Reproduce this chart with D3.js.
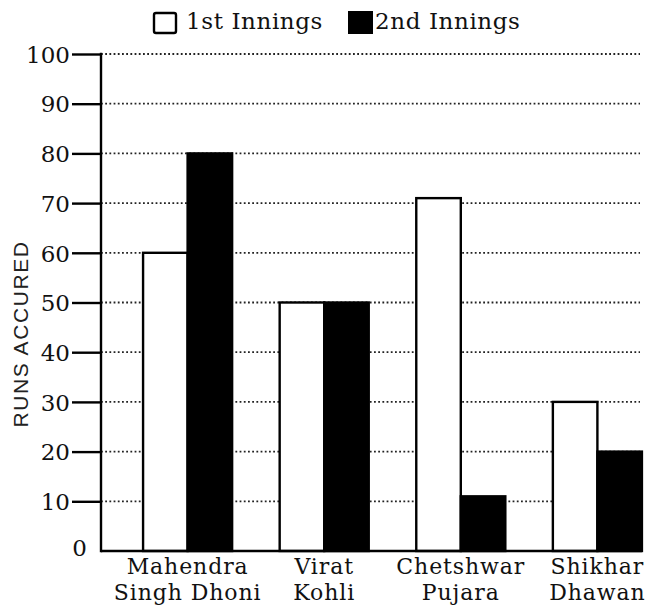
<!DOCTYPE html>
<html><head><meta charset="utf-8">
<script src="https://cdn.jsdelivr.net/npm/d3@7"></script>
<style>body{margin:0;background:#fff}</style>
</head><body>
<svg id="c" width="662" height="606"></svg>
<script>
const categories = [["Mahendra","Singh Dhoni"],["Virat","Kohli"],["Chetshwar","Pujara"],["Shikhar","Dhawan"]];
const series = ["1st Innings","2nd Innings"];
const firstInnings = [60, 50, 71, 30];
const secondInnings = [80, 50, 11, 20];
const yTicks = [0,10,20,30,40,50,60,70,80,90,100];
const yTitle = "RUNS ACCURED";

const svg = d3.select("#c");
const serif = "'DejaVu Serif', 'Liberation Serif', serif";
const x0 = 101, gridEnd = 640;
const y = d3.scaleLinear().domain([0,100]).range([551,54]);
const xb = d3.scaleBand().domain(d3.range(categories.length)).range([101,684]).paddingInner(0.348).paddingOuter(0.308);
const xs = d3.scaleBand().domain(series).range([0, xb.bandwidth()]);
const colors = {"1st Innings":"#fff","2nd Innings":"#000"};

// gridlines
svg.append("g").selectAll("line").data(yTicks.filter(d=>d>0)).join("line")
  .attr("x1", x0).attr("x2", gridEnd).attr("y1", d=>y(d)).attr("y2", d=>y(d))
  .attr("stroke","#222").attr("stroke-width",1.8).attr("stroke-dasharray","1.8,2.4");

// bars
const rows = categories.map((c,i)=>({i, vals:[firstInnings[i], secondInnings[i]]}));
const g = svg.append("g").selectAll("g").data(rows).join("g")
  .attr("transform", d=>`translate(${xb(d.i)},0)`);
g.selectAll("rect").data(d=>d.vals.map((v,k)=>({s:series[k], v}))).join("rect")
  .attr("x", d=>xs(d.s)).attr("width", xs.bandwidth())
  .attr("y", d=>y(d.v)).attr("height", d=>y(0)-y(d.v))
  .attr("fill", d=>colors[d.s]).attr("stroke","#000").attr("stroke-width",2.4);

// y axis
const ax = svg.append("g").attr("transform",`translate(${x0},0)`)
  .call(d3.axisLeft(y).tickValues(yTicks).tickSize(29).tickPadding(2));
ax.select(".domain").remove();
ax.selectAll(".tick line").attr("stroke","#000").attr("stroke-width",2.4)
  .attr("display", d=>d===0?"none":null);
ax.selectAll(".tick text").attr("font-family",serif).attr("font-size",23).attr("fill","#111")
  .attr("dy","0.36em");
ax.selectAll(".tick").filter(d=>d===0).select("text").attr("x",-14).attr("dy","0.2em");
svg.append("line").attr("x1",x0).attr("x2",x0).attr("y1",y(100)-1.2).attr("y2",y(0)+1.2)
  .attr("stroke","#000").attr("stroke-width",2.4);
// baseline
svg.append("line").attr("x1",x0).attr("x2",xb(categories.length-1)+xb.bandwidth())
  .attr("y1",y(0)).attr("y2",y(0)).attr("stroke","#000").attr("stroke-width",2.4);

// category labels (two separate text lines)
const lab = svg.append("g").selectAll("g").data(categories).join("g")
  .attr("transform",(d,i)=>`translate(${xb(i)+xb.bandwidth()/2},0)`);
lab.selectAll("text").data(d=>d).join("text")
  .attr("text-anchor","middle").attr("font-family",serif).attr("font-size",22).attr("letter-spacing",0.9).attr("fill","#111")
  .attr("y",(d,k)=>k?600:574).text(d=>d);

// y title
svg.append("text").attr("transform","translate(28,334) rotate(-90)").attr("text-anchor","middle")
  .attr("font-family","'Liberation Sans', Arial, sans-serif").attr("font-size",21).attr("letter-spacing",1.6).attr("fill","#222")
  .text(yTitle);

// legend
const leg = svg.append("g");
const legX = [153, 347];
series.forEach((s,k)=>{
  leg.append("rect").attr("x",legX[k]+1).attr("y",k?11:13).attr("width",k?25:22).attr("height",k?23:20)
    .attr("fill",colors[s]).attr("stroke","#000").attr("stroke-width",k?0:2.4).attr("rx",k?0:2);
  leg.append("text").attr("x",legX[k]+(k?28:33)).attr("y",29).attr("font-family",serif)
    .attr("font-size",23).attr("letter-spacing",0.6).attr("fill","#111").text(s);
});
</script>
</body></html>
